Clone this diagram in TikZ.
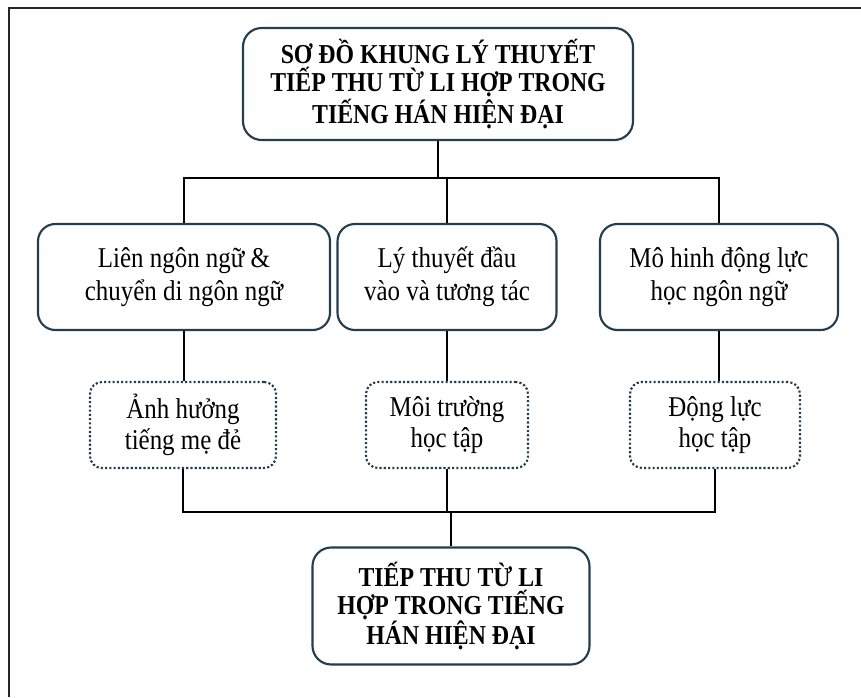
\documentclass[tikz,border=0pt]{standalone}
\usepackage{fontspec}
\setmainfont{Liberation Serif}[FakeStretch=0.87]
\usetikzlibrary{calc}
\definecolor{boxline}{RGB}{36,62,80}
\tikzset{
  /tikz/.cd,
  theory/.style={draw=boxline,line width=1.6pt,rounded corners=13pt,align=center,
    inner sep=0pt,font=\fontsize{21.5}{24.5}\selectfont},
  factor/.style={draw=boxline,line width=1.6pt,dash pattern=on 1.6pt off 1.6pt,
    rounded corners=9pt,align=center,inner sep=0pt,font=\fontsize{21.5}{23.5}\selectfont}
}

\begin{document}
\begin{tikzpicture}[x=0.75pt,y=-0.75pt,
                    heading/.style={draw=boxline,line width=1.6pt,rounded corners=14pt,align=center,
                      inner sep=0pt,font=\bfseries\fontsize{20.5}{21}\selectfont},
                    link/.style={line width=1.6pt,black}]
  \useasboundingbox (0,0) rectangle (861,697);
  \draw[line width=1.8pt,black!85] (9,697) -- (9,8) -- (861,8);

  \node[heading,minimum width=390*0.75pt,minimum height=112*0.75pt] (top) at (438,84)
    {SƠ ĐỒ KHUNG LÝ THUYẾT\\TIẾP THU TỪ LI HỢP TRONG\\TIẾNG HÁN HIỆN ĐẠI};
  \coordinate (hbar) at (0,178);

  \node[theory,minimum width=292*0.75pt,minimum height=106*0.75pt] (ling) at (184,277)
    {Liên ngôn ngữ \&\\chuyển di ngôn ngữ};
  \node[theory,minimum width=219*0.75pt,minimum height=106*0.75pt] (input) at (447,277)
    {Lý thuyết đầu\\vào và tương tác};
  \node[theory,minimum width=238*0.75pt,minimum height=106*0.75pt] (motiv) at (719,277)
    {Mô hinh động lực\\học ngôn ngữ};

  \node[factor,minimum width=186*0.75pt,minimum height=86*0.75pt] (mother) at (183,425)
    {Ảnh hưởng\\tiếng mẹ đẻ};
  \node[factor,minimum width=162*0.75pt,minimum height=86*0.75pt] (env) at (447,425)
    {Môi trường\\học tập};
  \node[factor,minimum width=170*0.75pt,minimum height=86*0.75pt] (drive) at (715,425)
    {Động lực\\học tập};
  \coordinate (lbar) at (0,512);

  \node[heading,minimum width=277*0.75pt,minimum height=117*0.75pt] (goal) at (451,606)
    {TIẾP THU TỪ LI\\HỢP TRONG TIẾNG\\HÁN HIỆN ĐẠI};

  \draw[link] (top.south) -- (top.south |- hbar);
  \draw[link] (ling.north) -- (ling.north |- hbar) -- (motiv.north |- hbar) -- (motiv.north);
  \draw[link] (input.north) -- (input.north |- hbar);

  \draw[link] (ling.south) -- (ling.south |- mother.north);
  \draw[link] (input.south) -- (env.north);
  \draw[link] (motiv.south) -- (motiv.south |- drive.north);

  \draw[link] (mother.south) -- (mother.south |- lbar) -- (drive.south |- lbar) -- (drive.south);
  \draw[link] (env.south) -- (env.south |- lbar);
  \draw[link] (goal.north) -- (goal.north |- lbar);
\end{tikzpicture}
\end{document}
